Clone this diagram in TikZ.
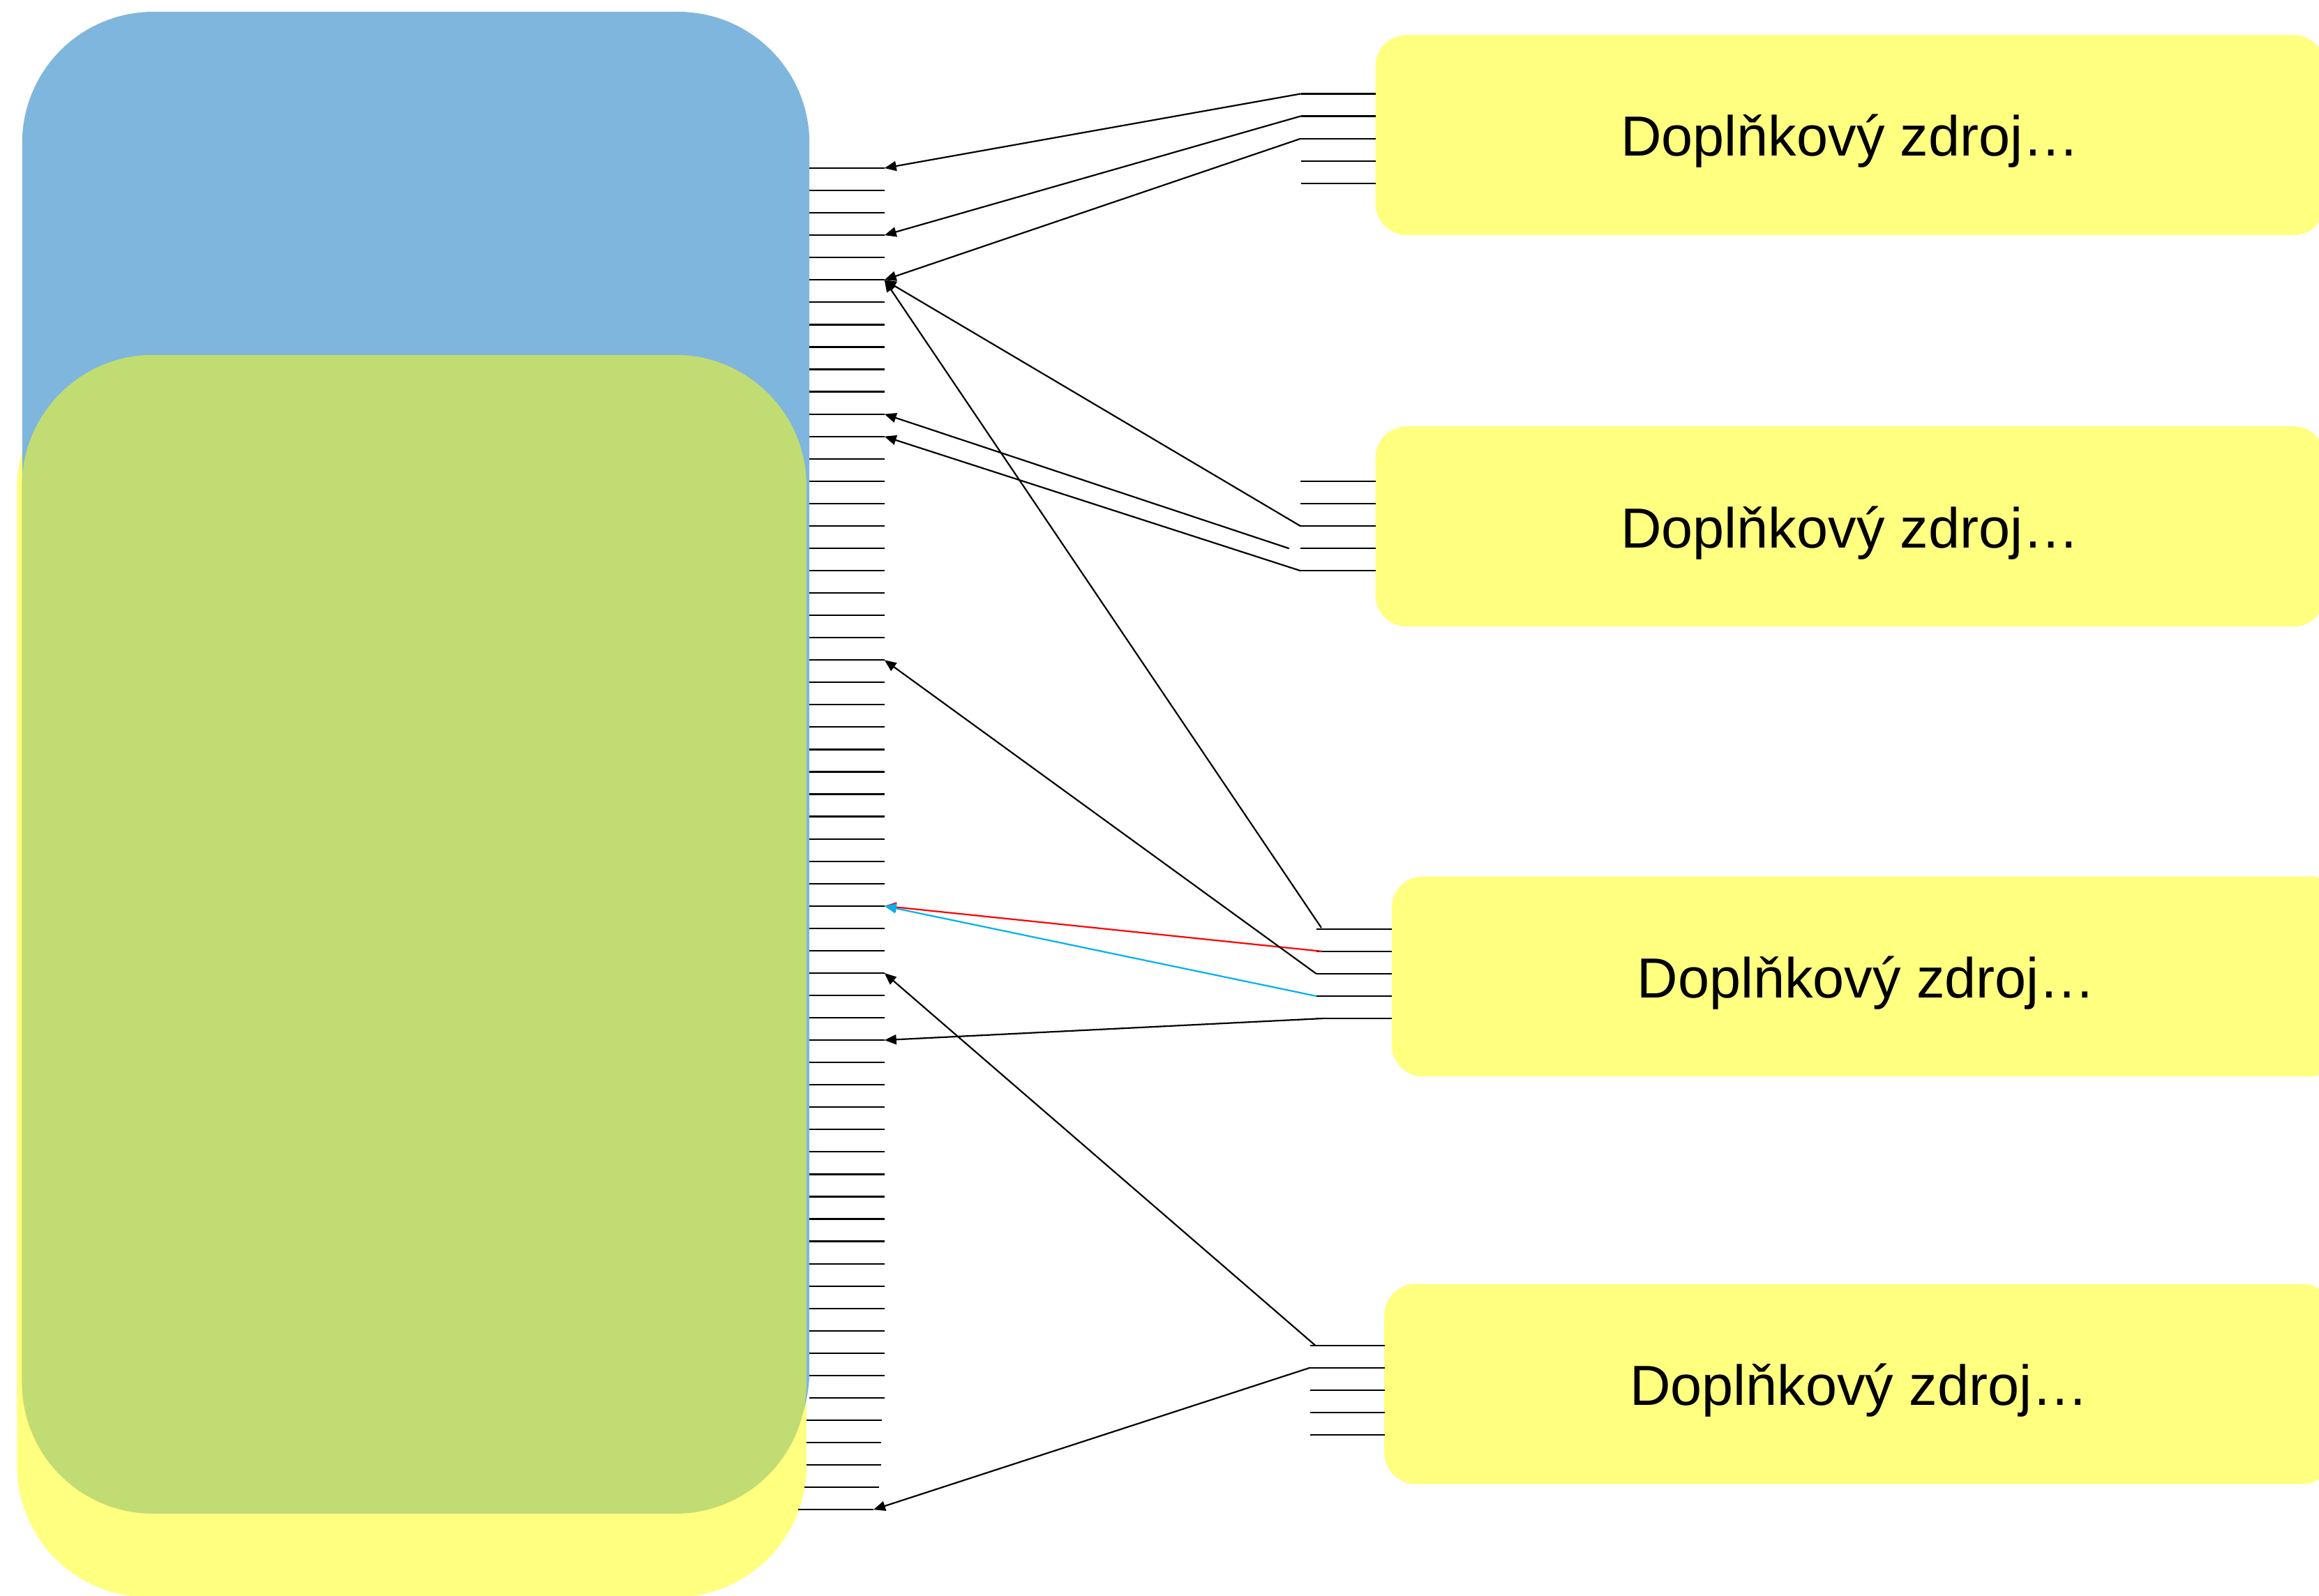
\documentclass[tikz,border=0pt]{standalone}
\usepackage{fontspec}
\setmainfont{Liberation Sans}
\usetikzlibrary{arrows.meta}
\definecolor{bigblue}{RGB}{127,182,221}
\definecolor{biggreen}{RGB}{193,220,115}
\definecolor{srcyellow}{RGB}{255,255,128}
\definecolor{linkcyan}{RGB}{0,176,240}
\begin{document}
\begin{tikzpicture}[x=2.1199pt, y=-2.1199pt,
  tickline/.style={line width=2.2pt, black},
  link/.style={line width=2.2pt, -{Triangle[length=17pt,width=14pt]}},
  srcbox/.style={fill=srcyellow, rounded corners=45pt, inner sep=0pt,
    minimum width=1361pt, minimum height=287pt,
    text height=70pt, text depth=9.2pt,
    font=\fontsize{81}{97}\selectfont, text=black}]
\useasboundingbox (0,0) rectangle (1568,1079);

% large background shapes
\fill[srcyellow, rounded corners=188pt] (11.5,241) rectangle (545.3,1080);
\fill[bigblue, rounded corners=188pt] (15,8) rectangle (547.3,1016);
\fill[biggreen, rounded corners=188pt] (14.8,240) rectangle (545.3,1023.6);

% left tick column
\foreach \i in {0,...,55} {
  \draw[tickline] (547.3,{113.7+15.12*\i}) -- (598,{113.7+15.12*\i}) coordinate (L\i);
}
\foreach \i/\a/\b in {56/545.4/596.3, 57/545.2/595.8, 58/545.2/595.8, 59/543.8/594.5, 60/539.7/590.6} {
  \draw[tickline] (\a,{113.7+15.12*\i}) -- (\b,{113.7+15.12*\i}) coordinate (L\i);
}

% source boxes
\node[srcbox] (S1) at (1251,91.3) {Doplňkový zdroj…};
\node[srcbox] (S2) at (1251,356) {Doplňkový zdroj…};
\node[srcbox] (S3) at (1262,660.3) {Doplňkový zdroj…};
\node[srcbox] (S4) at (1257,935.9) {Doplňkový zdroj…};

% right tick groups
\foreach \j/\y in {1/63.4, 2/78.5, 3/93.7, 4/108.8, 5/124.0} {
  \draw[tickline] (879.6,\y) coordinate (A\j) -- (930,\y);
}
\foreach \j/\y in {1/325.5, 2/340.6, 3/355.8, 4/370.9, 5/386.0} {
  \draw[tickline] (879.4,\y) coordinate (B\j) -- (930,\y);
}
\foreach \j/\y in {1/628.2, 2/643.3, 3/658.5, 4/673.6, 5/688.7} {
  \draw[tickline] (890,\y) coordinate (C\j) -- (941,\y);
}
\foreach \j/\y in {1/909.8, 2/924.9, 3/940.1, 4/955.2, 5/970.3} {
  \draw[tickline] (885.8,\y) coordinate (D\j) -- (936.2,\y);
}
\coordinate (B4s) at (871.6,370.9);
\coordinate (C1s) at (893.4,627.4);
\coordinate (C2s) at (893.4,643.3);
\coordinate (C5s) at (894.7,688.7);
\coordinate (D1s) at (889.3,909.8);

% connectors
\draw[link] (A1) -- (L0);
\draw[link] (A2) -- (L3);
\draw[link] (A3) -- (L5);
\draw[link] (B3) -- (L5);
\draw[link] (B4s) -- (L11);
\draw[link] (B5) -- (L12);
\draw[link] (C1s) -- (L5);
\draw[link, red] (C2s) -- (L33);
\draw[link] (C3) -- (L22);
\draw[link, linkcyan] (C4) -- (L33);
\draw[link] (C5s) -- (L39);
\draw[link] (D1s) -- (L36);
\draw[link] (D2) -- (L60);
\end{tikzpicture}
\end{document}
